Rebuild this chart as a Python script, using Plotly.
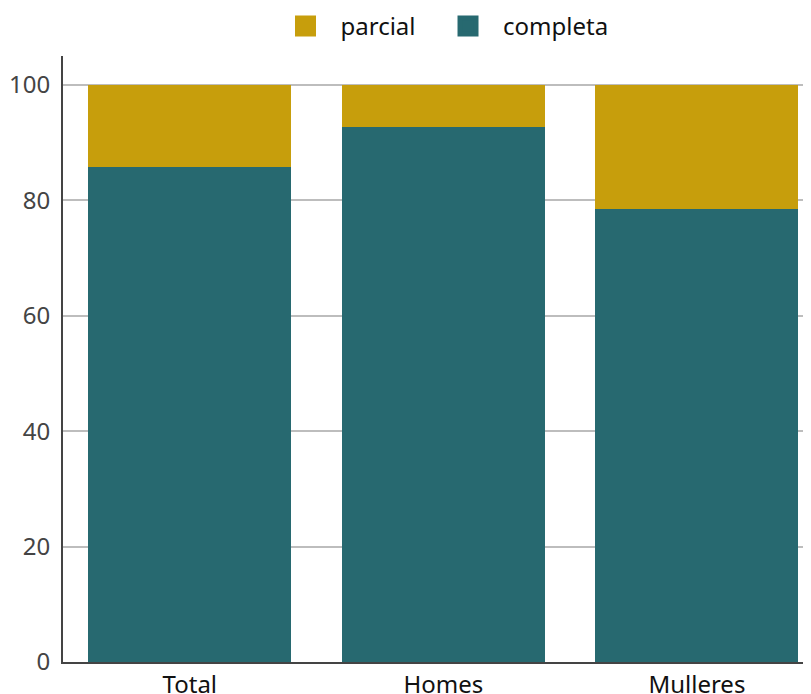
import plotly.graph_objects as go

categories = ["Total", "Homes", "Mulleres"]
completa = [85.8, 92.7, 78.5]
parcial = [14.2, 7.3, 21.5]
col_parcial = "#C79E0C"
col_completa = "#276970"

fig = go.Figure()
fig.add_trace(go.Bar(x=categories, y=completa, name="completa", marker_color=col_completa,
                     marker_line_width=0, showlegend=False))
fig.add_trace(go.Bar(x=categories, y=parcial, name="parcial", marker_color=col_parcial,
                     marker_line_width=0, showlegend=False))
# legend entries
for nm, col in [("parcial\u00a0\u00a0", col_parcial), ("completa", col_completa)]:
    fig.add_trace(go.Scatter(x=[None], y=[None], mode="markers", name=nm,
                             marker=dict(symbol="square", size=16, color=col,
                                         line=dict(color=col, width=9))))

fig.update_layout(
    width=803, height=686,
    barmode="stack", bargap=0.2,
    margin=dict(l=55, r=0, t=48, b=32, autoexpand=False),
    paper_bgcolor="white", plot_bgcolor="white",
    font=dict(family="Noto Sans", size=23, color="#111"),
    legend=dict(orientation="h", x=0.2774, xanchor="left", y=1.0487, yanchor="middle",
                font=dict(size=24, color="#111"), itemsizing="trace", itemwidth=60,
                traceorder="normal"),
    xaxis=dict(range=[-0.5, 2.45], showline=True, linecolor="#444", linewidth=2,
               ticks="", showgrid=False,
               tickfont=dict(size=24, color="#111")),
    yaxis=dict(range=[0, 105], tickvals=[0, 20, 40, 60, 80, 100], showline=True,
               linecolor="#444", linewidth=2, showgrid=True, gridcolor="#bdbdbd",
               gridwidth=2, zeroline=False, ticks="", ticklabelstandoff=6,
               tickfont=dict(size=24, color="#444")),
)
fig.write_html("out.html")
